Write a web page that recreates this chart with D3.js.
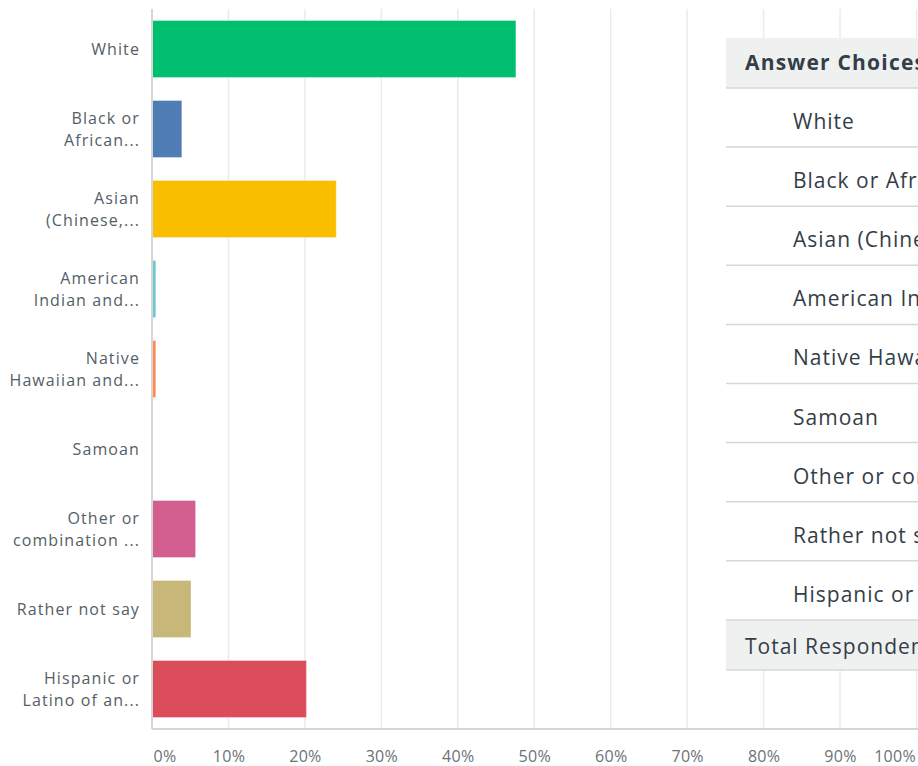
<!DOCTYPE html>
<html>
<head>
<meta charset="utf-8">
<script src="https://cdn.jsdelivr.net/npm/d3@7"></script>
<style>
  html, body { margin: 0; padding: 0; background: #fff; overflow: hidden; }
  svg { display: block; font-family: "Open Sans", sans-serif; }
</style>
</head>
<body>
<svg id="chart"></svg>
<script>
// answer choices, shortened labels and percent of respondents
var categories = ["White", "Black or African American", "Asian (Chinese, Filipino, Japanese, Korean, Vietnamese)",
  "American Indian and Alaska Native", "Native Hawaiian and Other Pacific Islander", "Samoan",
  "Other or combination (please specify)", "Rather not say", "Hispanic or Latino of any race"];
var axisLabels = [["White"], ["Black or", "African..."], ["Asian", "(Chinese,..."], ["American", "Indian and..."],
  ["Native", "Hawaiian and..."], ["Samoan"], ["Other or", "combination ..."], ["Rather not say"], ["Hispanic or", "Latino of an..."]];
var percents = [47.6, 3.9, 24.1, 0.5, 0.5, 0, 5.7, 5.1, 20.2];
var colors = ["#00bf6f", "#507cb6", "#f9be00", "#6bc8cd", "#ff8b4f", "#7d5e90", "#d25f90", "#c7b879", "#dc4d5b"];
var ticks = [0, 10, 20, 30, 40, 50, 60, 70, 80, 90, 100];
var tableHeader = "Answer Choices";
var tableTotal = "Total Respondents";

var W = 918, H = 766;
var margin = { top: 9, right: 2, bottom: 37, left: 152 };

var svg = d3.select("#chart").attr("width", W).attr("height", H);

var x = d3.scaleLinear().domain([0, 100]).range([margin.left, 916.5]);
var y = d3.scaleBand().domain(d3.range(categories.length))
  .range([margin.top, H - margin.bottom]).paddingInner(0.2875).paddingOuter(0.14375);

// grid lines
svg.append("g").selectAll("line").data(ticks.slice(1)).join("line")
  .attr("x1", function(d){ return x(d); }).attr("x2", function(d){ return x(d); })
  .attr("y1", margin.top).attr("y2", H - margin.bottom)
  .attr("stroke", "#ebebeb").attr("stroke-width", 1.5);

// bars
svg.append("g").selectAll("rect").data(percents).join("rect")
  .attr("x", x(0))
  .attr("y", function(d, i){ return y(i); })
  .attr("width", function(d){ return Math.max(0, x(d) - x(0)); })
  .attr("height", y.bandwidth())
  .attr("fill", function(d, i){ return colors[i]; })
  .attr("stroke", function(d){ return d > 0 ? "rgba(255,255,255,0.35)" : "none"; })
  .attr("stroke-width", 1);

// axis lines
svg.append("line").attr("x1", x(0)).attr("x2", x(0)).attr("y1", margin.top).attr("y2", H - margin.bottom)
  .attr("stroke", "#d6d6d6").attr("stroke-width", 2);
svg.append("line").attr("x1", x(0)).attr("x2", W).attr("y1", H - margin.bottom).attr("y2", H - margin.bottom)
  .attr("stroke", "#d6d6d6").attr("stroke-width", 2);

// x tick labels
var xAxis = d3.axisBottom(x).tickValues(ticks).tickSize(0).tickPadding(0)
  .tickFormat(function(d){ return d + "%"; });
var gx = svg.append("g").attr("transform", "translate(0," + (H - 4) + ")").call(xAxis);
gx.select(".domain").remove();
gx.selectAll("text").attr("dy", 0).attr("font-size", 16).attr("fill", "#6b7276")
  .attr("font-family", "Open Sans").style("letter-spacing", "0.3px")
  .attr("text-anchor", function(d){ return d === 0 ? "start" : d === 100 ? "end" : "middle"; })
  .attr("x", function(d){ return d === 0 ? 1 : d === 100 ? -1 : 0; });

// category labels
var lab = svg.append("g").selectAll("text").data(axisLabels).join("text")
  .attr("text-anchor", "end").attr("font-size", 16).attr("fill", "#545e66")
  .style("letter-spacing", "1.1px")
  .attr("transform", function(d, i){ return "translate(140," + (y(i) + y.bandwidth() / 2) + ")"; });
lab.selectAll("tspan").data(function(d){ return d; }).join("tspan")
  .attr("x", 0)
  .attr("y", function(d, j, nodes){ return (j - (nodes.length - 1) / 2) * 22 + 6; })
  .text(function(d){ return d; });

// answer choices table
var tx = 726, headTop = 38, headH = 50, rowH = 59.1;
var tbl = svg.append("g");
tbl.append("rect").attr("x", tx).attr("y", headTop).attr("width", W - tx).attr("height", headH + rowH * categories.length + 50)
  .attr("fill", "#fff");
tbl.append("rect").attr("x", tx).attr("y", headTop).attr("width", W - tx).attr("height", headH).attr("fill", "#eff0f0");
var totalTop = headTop + headH + rowH * categories.length;
tbl.append("rect").attr("x", tx).attr("y", totalTop).attr("width", W - tx).attr("height", 50).attr("fill", "#eff0f0");
tbl.append("text").attr("x", 745).attr("y", headTop + 32).attr("font-size", 21).attr("font-weight", 700)
  .attr("fill", "#333e48").style("letter-spacing", "1.2px").text(tableHeader);
tbl.selectAll(".row").data(categories).join("text").attr("class", "row")
  .attr("x", 793).attr("y", function(d, i){ return headTop + headH + rowH * i + rowH / 2 + 11.5; })
  .attr("font-size", 21).attr("fill", "#333e48").style("letter-spacing", "1px")
  .text(function(d){ return d; });
tbl.append("text").attr("x", 745).attr("y", totalTop + 34).attr("font-size", 21)
  .attr("fill", "#333e48").style("letter-spacing", "1px").text(tableTotal);
tbl.selectAll(".sep").data(d3.range(categories.length + 2)).join("line").attr("class", "sep")
  .attr("x1", tx).attr("x2", W)
  .attr("y1", function(i){ return headTop + headH + rowH * i; })
  .attr("y2", function(i){ return headTop + headH + rowH * i; })
  .attr("transform", function(i){ return i === categories.length + 1 ? "translate(0," + (50 - rowH) + ")" : null; })
  .attr("stroke", "#d5d8d9").attr("stroke-width", 1.5);
</script>
</body>
</html>
